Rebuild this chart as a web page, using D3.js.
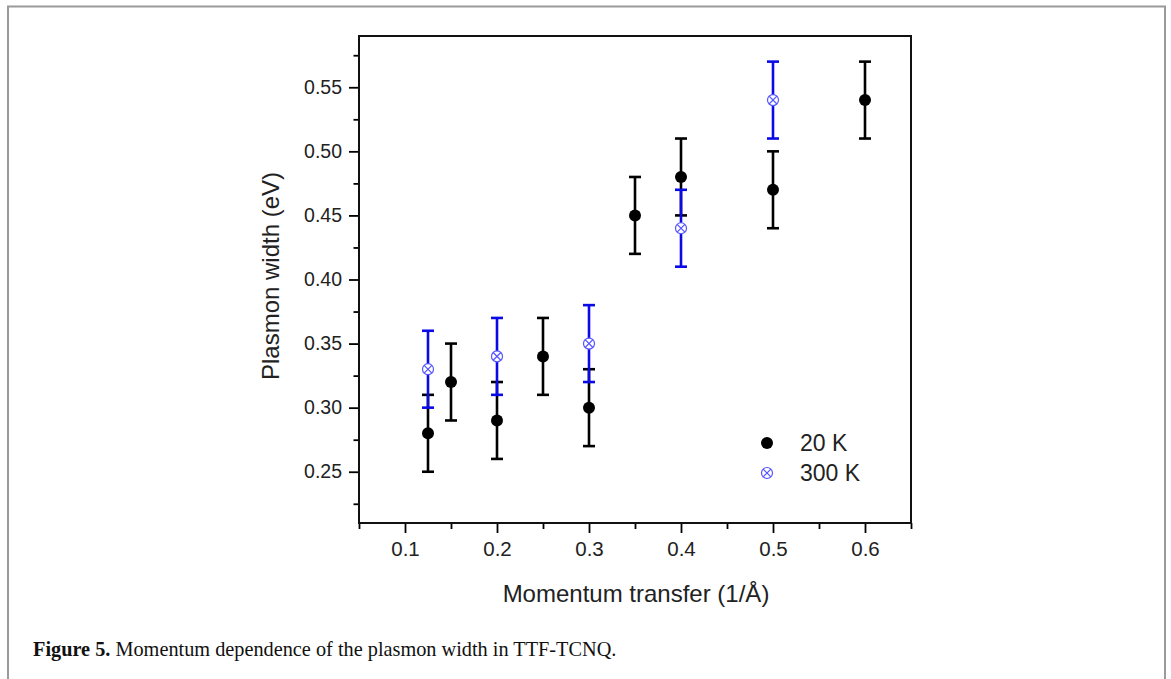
<!DOCTYPE html>
<html>
<head>
<meta charset="utf-8">
<script src="https://cdn.jsdelivr.net/npm/d3@7"></script>
<style>
html,body{margin:0;padding:0;background:#fff;}
svg{display:block;}
</style>
</head>
<body>
<svg id="chart" width="1171" height="679"></svg>
<script>
// ---- Data ----
const q20 = [0.125, 0.15, 0.2, 0.25, 0.3, 0.35, 0.4, 0.5, 0.6];
const w20 = [0.28, 0.32, 0.29, 0.34, 0.30, 0.45, 0.48, 0.47, 0.54];
const err20 = [0.03, 0.03, 0.03, 0.03, 0.03, 0.03, 0.03, 0.03, 0.03];
const q300 = [0.125, 0.2, 0.3, 0.4, 0.5];
const w300 = [0.33, 0.34, 0.35, 0.44, 0.54];
const err300 = [0.03, 0.03, 0.03, 0.03, 0.03];
const xTicks = [0.1, 0.2, 0.3, 0.4, 0.5, 0.6];
const xTickLabels = ["0.1", "0.2", "0.3", "0.4", "0.5", "0.6"];
const xMinor = [0.05, 0.15, 0.25, 0.35, 0.45, 0.55, 0.65];
const yTicks = [0.25, 0.30, 0.35, 0.40, 0.45, 0.50, 0.55];
const yTickLabels = ["0.25", "0.30", "0.35", "0.40", "0.45", "0.50", "0.55"];
const yMinor = [0.225, 0.275, 0.325, 0.375, 0.425, 0.475, 0.525, 0.575];
const seriesNames = ["20 K", "300 K"];
const xTitle = "Momentum transfer (1/Å)";
const yTitle = "Plasmon width (eV)";

// ---- Layout ----
const svg = d3.select("#chart");
const L = 359, R = 911, T = 36, B = 523;
const x = d3.scaleLinear().domain([0.05, 0.65]).range([L, R]);
const y = d3.scaleLinear().domain([0.21, 0.59]).range([B, T]);
const sans = "'Liberation Sans', Arial, sans-serif";
const blueBar = "#0a0ae6";
const blueMark = "#5555ff";

// figure border
svg.append("rect").attr("x", 8).attr("y", 6.5).attr("width", 1157).attr("height", 690)
  .attr("fill", "none").attr("stroke", "#9a9a9a").attr("stroke-width", 2);

// axes
function styleAxis(g, fs) {
  g.select(".domain").remove();
  g.selectAll(".tick line").attr("stroke", "#000").attr("stroke-width", 1.8);
  g.selectAll(".tick text").attr("font-family", sans).attr("font-size", fs).attr("fill", "#222");
}
const xAxis = svg.append("g").attr("transform", `translate(0,${B})`)
  .call(d3.axisBottom(x).tickValues(xTicks).tickFormat((d, i) => xTickLabels[i]).tickSize(10).tickPadding(8));
styleAxis(xAxis, "20.5px");
const xAxisMinor = svg.append("g").attr("transform", `translate(0,${B})`)
  .call(d3.axisBottom(x).tickValues(xMinor).tickFormat("").tickSize(6));
styleAxis(xAxisMinor, "20px");
const yAxis = svg.append("g").attr("transform", `translate(${L},0)`)
  .call(d3.axisLeft(y).tickValues(yTicks).tickFormat((d, i) => yTickLabels[i]).tickSize(10).tickPadding(7));
styleAxis(yAxis, "19.5px");
const yAxisMinor = svg.append("g").attr("transform", `translate(${L},0)`)
  .call(d3.axisLeft(y).tickValues(yMinor).tickFormat("").tickSize(5.5));
styleAxis(yAxisMinor, "19.5px");

// frame
svg.append("rect").attr("x", L).attr("y", T).attr("width", R - L).attr("height", B - T)
  .attr("fill", "none").attr("stroke", "#111").attr("stroke-width", 2);

// axis titles
svg.append("text").attr("x", 636).attr("y", 602).attr("text-anchor", "middle")
  .attr("font-family", sans).attr("font-size", "24px").attr("fill", "#222").text(xTitle);
svg.append("text").attr("transform", `translate(279,276) rotate(-90)`).attr("text-anchor", "middle")
  .attr("font-family", sans).attr("font-size", "24px").attr("fill", "#222").text(yTitle);

// error bars
const cap = 6;
function errorBars(qs, ws, es, color) {
  const g = svg.append("g").attr("stroke", color).attr("stroke-width", 2.6).attr("fill", "none");
  qs.forEach((q, i) => {
    const cx = x(q), y0 = y(ws[i] - es[i]), y1 = y(ws[i] + es[i]);
    g.append("line").attr("x1", cx).attr("x2", cx).attr("y1", y0).attr("y2", y1);
    g.append("line").attr("x1", cx - cap).attr("x2", cx + cap).attr("y1", y0).attr("y2", y0);
    g.append("line").attr("x1", cx - cap).attr("x2", cx + cap).attr("y1", y1).attr("y2", y1);
  });
}
errorBars(q20, w20, err20, "#000");
errorBars(q300, w300, err300, blueBar);

// markers
function dot(g, cx, cy) {
  g.append("circle").attr("cx", cx).attr("cy", cy).attr("r", 6).attr("fill", "#000");
}
function xcircle(g, cx, cy) {
  const r = 5.5, d = r * 0.7071;
  g.append("circle").attr("cx", cx).attr("cy", cy).attr("r", r).attr("fill", "#fff")
    .attr("stroke", blueMark).attr("stroke-width", 1.2);
  g.append("line").attr("x1", cx - d).attr("y1", cy - d).attr("x2", cx + d).attr("y2", cy + d)
    .attr("stroke", blueMark).attr("stroke-width", 1.2);
  g.append("line").attr("x1", cx - d).attr("y1", cy + d).attr("x2", cx + d).attr("y2", cy - d)
    .attr("stroke", blueMark).attr("stroke-width", 1.2);
}
const g20 = svg.append("g");
q20.forEach((q, i) => dot(g20, x(q), y(w20[i])));
const g300 = svg.append("g");
q300.forEach((q, i) => xcircle(g300, x(q), y(w300[i])));

// legend
const lg = svg.append("g");
dot(lg, 767, 443);
xcircle(lg, 767, 473);
lg.append("text").attr("x", 800).attr("y", 451).attr("font-family", sans).attr("font-size", "23px")
  .attr("fill", "#222").text(seriesNames[0]);
lg.append("text").attr("x", 800).attr("y", 481).attr("font-family", sans).attr("font-size", "23px")
  .attr("fill", "#222").text(seriesNames[1]);

// caption
const cap1 = svg.append("text").attr("x", 33).attr("y", 656).attr("font-family", "'Liberation Serif', 'Times New Roman', serif")
  .attr("font-size", "20.3px").attr("fill", "#111");
cap1.append("tspan").attr("font-weight", "bold").text("Figure 5.");
cap1.append("tspan").text(" Momentum dependence of the plasmon width in TTF-TCNQ.");
</script>
</body>
</html>
